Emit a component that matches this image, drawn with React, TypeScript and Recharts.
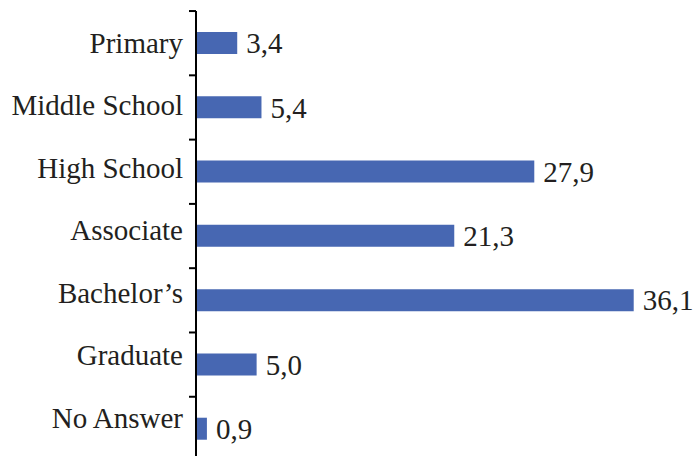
import React from "react";
import { BarChart, Bar, XAxis, YAxis, LabelList } from "recharts";

const categories = ["Primary", "Middle School", "High School", "Associate", "Bachelor’s", "Graduate", "No Answer"];
const values = [3.4, 5.4, 27.9, 21.3, 36.1, 5.0, 0.9];
const valueLabels = ["3,4", "5,4", "27,9", "21,3", "36,1", "5,0", "0,9"];

const data = categories.map((c, i) => ({ name: c, value: values[i], label: valueLabels[i] }));

const FONT = "'Liberation Serif', 'Times New Roman', serif";
const TEXT = "#231f20";

const CatTick = (props: any) => {
  const { y, payload, index } = props;
  const axisX = 196;
  const half = 32.1;
  return (
    <g>
      <line x1={axisX - 7} x2={axisX} y1={y - half} y2={y - half} stroke="#000" strokeWidth={2} />
      <text x={183} y={y} dy={9.6 - 1.8 * (index || 0)} textAnchor="end" fontFamily={FONT} fontSize={29} fill={TEXT}>
        {payload.value}
      </text>
    </g>
  );
};

export default function App() {
  return (
    <div style={{ position: "absolute", left: 0, top: 0, width: 693, height: 456, overflow: "hidden", background: "#fff" }}>
      <BarChart
        width={693}
        height={461}
        data={data}
        layout="vertical"
        margin={{ top: 11, right: 12, bottom: 0, left: 0 }}
        barCategoryGap={0}
      >
        <XAxis type="number" domain={[0, 40]} hide />
        <YAxis
          type="category"
          dataKey="name"
          width={196}
          axisLine={{ stroke: "#000", strokeWidth: 2 }}
          tickLine={false}
          tick={<CatTick />}
          interval={0}
        />
        <Bar dataKey="value" fill="#4767b2" barSize={22} isAnimationActive={false}>
          <LabelList
            dataKey="label"
            position="right"
            offset={9}
            style={{ fontFamily: FONT, fontSize: 29, fill: TEXT }}
          />
        </Bar>
      </BarChart>
    </div>
  );
}
